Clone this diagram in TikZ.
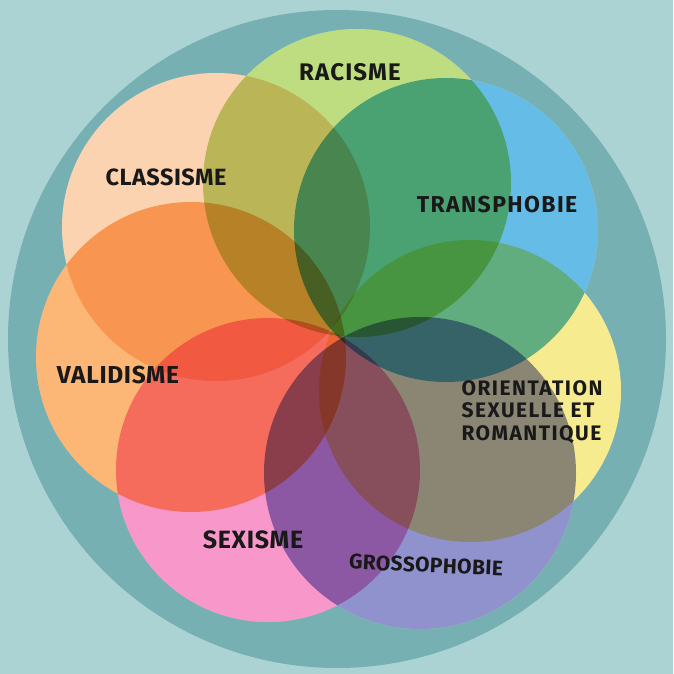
\documentclass[tikz,border=0pt]{standalone}
\usepackage{fontspec}
\setmainfont{Fira Sans}
\definecolor{bgl}{RGB}{172,211,212}
\definecolor{bigc}{RGB}{119,176,178}
\definecolor{cRac}{RGB}{189,221,128}
\definecolor{cTra}{RGB}{101,188,230}
\definecolor{cOri}{RGB}{247,235,143}
\definecolor{cGro}{RGB}{144,146,206}
\definecolor{cSex}{RGB}{248,152,202}
\definecolor{cVal}{RGB}{252,182,118}
\definecolor{cCla}{RGB}{251,211,176}
\begin{document}
\begin{tikzpicture}[x=1pt,y=-1pt,
  lbl/.style 2 args={font=\bfseries\fontsize{#1}{#1}\selectfont\addfontfeatures{LetterSpace=#2},
    text=black!90, inner sep=0pt},
  petal/.style={fill=#1}]
\fill[bgl] (0,0) rectangle (673,674);
\useasboundingbox (0,0) rectangle (673,674);
\fill[bigc] (337,339) circle[radius=329pt];
% petal centres
\coordinate (pRac) at (357,183);
\coordinate (pTra) at (446,230);
\coordinate (pOri) at (470,391);
\coordinate (pGro) at (420,473);
\coordinate (pSex) at (268,470);
\coordinate (pVal) at (191,357);
\coordinate (pCla) at (216,227);
% white base under the petals
\fill[white] (pRac) circle[radius=154pt] (pTra) circle[radius=152pt]
  (pOri) circle[radius=151pt] (pGro) circle[radius=156pt]
  (pSex) circle[radius=152pt] (pVal) circle[radius=155pt]
  (pCla) circle[radius=154pt];
\begin{scope}[blend mode=multiply]
  \fill[petal=cCla] (pCla) circle[radius=154pt];
  \fill[petal=cRac] (pRac) circle[radius=154pt];
  \fill[petal=cTra] (pTra) circle[radius=152pt];
  \fill[petal=cOri] (pOri) circle[radius=151pt];
  \fill[petal=cGro] (pGro) circle[radius=156pt];
  \fill[petal=cSex] (pSex) circle[radius=152pt];
  \fill[petal=cVal] (pVal) circle[radius=155pt];
\end{scope}
% labels
\node[lbl={24}{5}] (tRac) at (350,72) {RACISME};
\node[lbl={23.5}{2}] (tCla) at (166,177) {CLASSISME};
\node[lbl={23}{6}] (tTra) at (497,205) {TRANSPHOBIE};
\node[lbl={24.5}{2.7}] (tVal) at (118,375) {VALIDISME};
\node[lbl={25}{2.8}] (tSex) at (253,540) {SEXISME};
\node[lbl={21}{1.6}, rotate=-2.5] (tGro) at (426,565) {GROSSOPHOBIE};
\node[lbl={21}{7}, align=left, font=\bfseries\fontsize{21}{22.5}\selectfont\addfontfeatures{LetterSpace=7}] (tOri) at (532,412)
  {ORIENTATION\\SEXUELLE ET\\ROMANTIQUE};
\end{tikzpicture}
\end{document}
